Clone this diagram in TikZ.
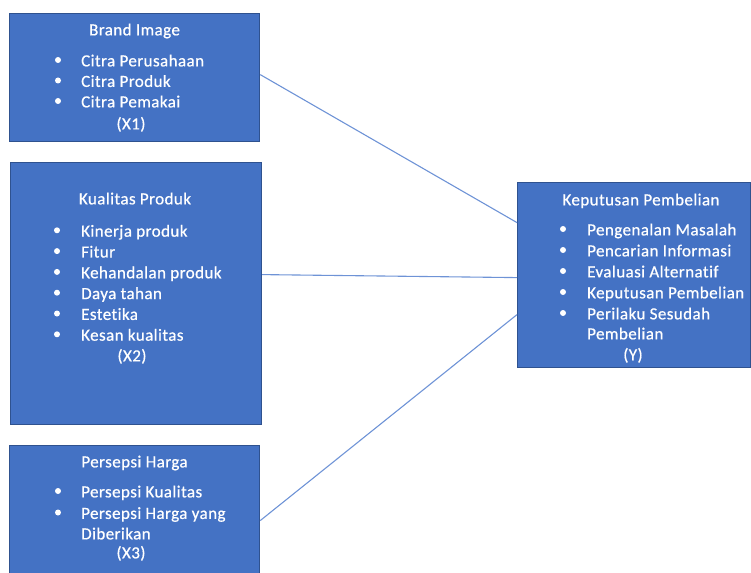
\documentclass[tikz,border=0pt]{standalone}
\usepackage{fontspec}
\setmainfont{Carlito}[Ligatures=NoCommon, LetterSpace=2.5, FakeBold=0.6]
\definecolor{boxfill}{HTML}{4472C4}
\definecolor{boxedge}{HTML}{2F528F}
\definecolor{linkblue}{HTML}{6E93D6}

\begin{document}
\begin{tikzpicture}[
			x=1pt, y=-1pt,
			box/.style  = {draw=boxedge, fill=boxfill, line width=1.2pt, anchor=north west, inner sep=0pt},
			head/.style = {text=white, font=\fontsize{17}{20}\selectfont, inner sep=0pt, anchor=mid, yshift=-4pt},
			item/.style = {head, anchor=mid west},
			dot/.style  = {circle, fill=white, inner sep=0pt, minimum size=6pt},
			link/.style = {draw=linkblue, line width=1.1pt}]
			
			\useasboundingbox (0,0) rectangle (751,572);
			
			% the four boxes
			\node[box, minimum width=250, minimum height=128] (bi) at (9,13) {};
			\node[box, minimum width=251, minimum height=262] (kp) at (10,162) {};
			\node[box, minimum width=250, minimum height=135] (ph) at (9,445) {};
			\node[box, minimum width=233, minimum height=185] (kd) at (517,182) {};
			
			% Brand Image
			\node[head] (bi-h) at (134.5,29) {Brand Image};
			\foreach \txt [count=\i] in {Citra Perusahaan, Citra Produk, Citra Pemakai} {
				\node[dot] (bi-b\i) at (58,39.5+20.5*\i) {};
				\node[item] (bi-t\i) at (81,39.5+20.5*\i) {\txt};
			}
			\node[head] (bi-x) at (131,123) {(X1)};
			
			% Kualitas Produk
			\node[head] (kp-h) at (135,198) {Kualitas Produk};
			\foreach \txt [count=\i] in {Kinerja produk, Fitur, Kehandalan produk, Daya tahan, Estetika, Kesan kualitas} {
				\node[dot] (kp-b\i) at (57,209.5+20.8*\i) {};
				\node[item] (kp-t\i) at (81,209.5+20.8*\i) {\txt};
			}
			\node[head] (kp-x) at (132,355) {(X2)};
			
			% Persepsi Harga
			\node[head] (ph-h) at (134.5,461) {Persepsi Harga};
			\foreach \txt [count=\i] in {Persepsi Kualitas, Persepsi Harga yang} {
				\node[dot] (ph-b\i) at (58,469.5+21.5*\i) {};
				\node[item] (ph-t\i) at (81,469.5+21.5*\i) {\txt};
			}
			\node[item] (ph-t3) at (81,533) {Diberikan};
			\node[head] (ph-x) at (131,552) {(X3)};
			
			% Keputusan Pembelian
			\node[head] (kd-h) at (641,199) {Keputusan Pembelian};
			\foreach \txt [count=\i] in {Pengenalan Masalah, Pencarian Informasi, Evaluasi Alternatif, Keputusan Pembelian, Perilaku Sesudah} {
				\node[dot] (kd-b\i) at (563,208+21*\i) {};
				\node[item] (kd-t\i) at (587,208+21*\i) {\txt};
			}
			\node[item] (kd-t6) at (587,333) {Pembelian};
			\node[head] (kd-y) at (633,354) {(Y)};
			
			% connectors
			\draw[link] ([yshift=3pt]bi.east) -- ([yshift=52.5pt]kd.west);
			\draw[link] ([yshift=19pt]kp.east) -- ([yshift=-2.5pt]kd.west);
			\draw[link] ([yshift=-7.5pt]ph.east) -- ([yshift=-39.5pt]kd.west);
		\end{tikzpicture}
\end{document}
